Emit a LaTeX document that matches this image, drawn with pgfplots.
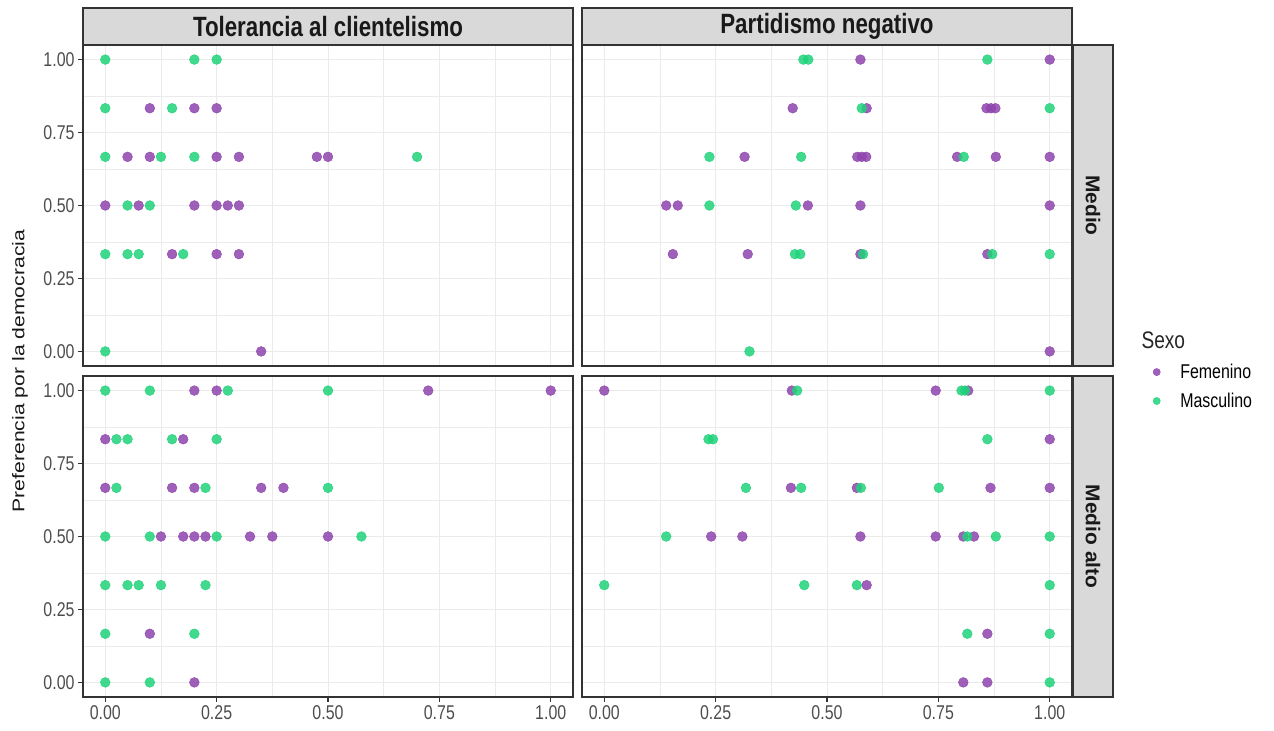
\documentclass[border=0pt]{standalone}
\usepackage{fontspec}
\setmainfont{Liberation Sans}
\newfontfamily\fonth[FakeStretch=0.8]{Liberation Sans}
\newfontfamily\fontv[FakeStretch=1.25]{Liberation Sans}
\newfontfamily\fontvs[FakeStretch=1.05]{Liberation Sans}
\usepackage{pgfplots}
\pgfplotsset{compat=1.18}
\definecolor{fem}{HTML}{8E44AD}
\definecolor{mas}{HTML}{1FD27A}
\definecolor{gridc}{HTML}{EBEBEB}
\definecolor{framec}{HTML}{333333}
\definecolor{stripc}{HTML}{D9D9D9}
\definecolor{tickc}{HTML}{4D4D4D}
\pgfplotsset{
  panel/.style={
    scale only axis, width=490bp, height=321bp,
    xmin=-0.05, xmax=1.05, ymin=-0.05, ymax=1.05,
    xtick={0,0.25,0.5,0.75,1}, ytick={0,0.25,0.5,0.75,1},
    minor xtick={0.125,0.375,0.625,0.875}, minor ytick={0.125,0.375,0.625,0.875},
    grid=both,
    major grid style={gridc, line width=1bp},
    minor grid style={gridc, line width=0.6bp},
    axis line style={framec, line width=1.1bp},
    tick pos=left, tick align=outside, major tick length=5bp, minor tick length=0pt,
    tick style={framec, line width=1.1bp},
    xticklabels={0.00,0.25,0.50,0.75,1.00},
    yticklabels={0.00,0.25,0.50,0.75,1.00},
    ticklabel style={font=\fonth\fontsize{20}{22}\selectfont, text=tickc},
  },
  noxlab/.style={xticklabels={}, xtick style={draw=none}},
  noylab/.style={yticklabels={}, ytick style={draw=none}},
  fempt/.style={only marks, mark=*, mark size=4.9bp, color=fem, mark options={draw=none, fill=fem, fill opacity=0.85}},
  maspt/.style={only marks, mark=*, mark size=4.9bp, color=mas, mark options={draw=none, fill=mas, fill opacity=0.85}},
}
\begin{document}
\begin{tikzpicture}
\useasboundingbox (0bp,0bp) rectangle (1274bp,731bp);

% ---------- top-left: Medio / Tolerancia al clientelismo
\begin{axis}[panel, noxlab, at={(83bp,365bp)}, anchor=south west]
\addplot[fempt] coordinates {
(0.1,0.8333)(0.2,0.8333)(0.25,0.8333)
(0.05,0.6667)(0.1,0.6667)(0.25,0.6667)(0.3,0.6667)(0.475,0.6667)(0.5,0.6667)
(0,0.5)(0.075,0.5)(0.2,0.5)(0.25,0.5)(0.275,0.5)(0.3,0.5)
(0.15,0.3333)(0.25,0.3333)(0.3,0.3333)
(0.35,0)};
\addplot[maspt] coordinates {
(0,1)(0.2,1)(0.25,1)
(0,0.8333)(0.15,0.8333)
(0,0.6667)(0.125,0.6667)(0.2,0.6667)(0.7,0.6667)
(0.05,0.5)(0.1,0.5)
(0,0.3333)(0.05,0.3333)(0.075,0.3333)(0.175,0.3333)
(0,0)};
\end{axis}

% ---------- top-right: Medio / Partidismo negativo
\begin{axis}[panel, noxlab, noylab, at={(582bp,365bp)}, anchor=south west]
\addplot[fempt] coordinates {
(0.575,1)(1,1)
(0.423,0.8333)(0.589,0.8333)(0.858,0.8333)(0.868,0.8333)(0.878,0.8333)
(0.315,0.6667)(0.568,0.6667)(0.578,0.6667)(0.588,0.6667)(0.792,0.6667)(0.879,0.6667)(1,0.6667)
(0.139,0.5)(0.165,0.5)(0.457,0.5)(0.575,0.5)(1,0.5)
(0.154,0.3333)(0.322,0.3333)(0.575,0.3333)(0.860,0.3333)
(1,0)};
\addplot[maspt] coordinates {
(0.447,1)(0.458,1)(0.860,1)
(0.578,0.8333)(1,0.8333)
(0.236,0.6667)(0.442,0.6667)(0.807,0.6667)
(0.236,0.5)(0.43,0.5)
(0.428,0.3333)(0.44,0.3333)(0.581,0.3333)(0.871,0.3333)(1,0.3333)
(0.326,0)};
\end{axis}

% ---------- bottom-left: Medio alto / Tolerancia al clientelismo
\begin{axis}[panel, at={(83bp,34bp)}, anchor=south west]
\addplot[fempt] coordinates {
(0.2,1)(0.25,1)(0.725,1)(1,1)
(0,0.8333)(0.175,0.8333)
(0,0.6667)(0.15,0.6667)(0.2,0.6667)(0.35,0.6667)(0.4,0.6667)
(0.125,0.5)(0.175,0.5)(0.2,0.5)(0.225,0.5)(0.325,0.5)(0.375,0.5)(0.5,0.5)
(0.1,0.1667)
(0.2,0)};
\addplot[maspt] coordinates {
(0,1)(0.1,1)(0.275,1)(0.5,1)
(0.025,0.8333)(0.05,0.8333)(0.15,0.8333)(0.25,0.8333)
(0.025,0.6667)(0.225,0.6667)(0.5,0.6667)
(0,0.5)(0.1,0.5)(0.25,0.5)(0.575,0.5)
(0,0.3333)(0.05,0.3333)(0.075,0.3333)(0.125,0.3333)(0.225,0.3333)
(0,0.1667)(0.2,0.1667)
(0,0)(0.1,0)};
\end{axis}

% ---------- bottom-right: Medio alto / Partidismo negativo
\begin{axis}[panel, noylab, at={(582bp,34bp)}, anchor=south west,
  legend style={draw=none, fill=none, at={(1.159,1.05)}, anchor=north west,
    font=\fonth\fontsize{20}{24}\selectfont, row sep=9bp,
    /tikz/every odd column/.append style={column sep=18bp}},
  legend image post style={mark size=3.6bp},
  legend cell align=left]
\addplot[fempt] coordinates {
(0,1)(0.421,1)(0.744,1)(0.817,1)
(1,0.8333)
(0.419,0.6667)(0.567,0.6667)(0.867,0.6667)(1,0.6667)
(0.240,0.5)(0.31,0.5)(0.575,0.5)(0.744,0.5)(0.806,0.5)(0.830,0.5)
(0.589,0.3333)
(0.860,0.1667)
(0.806,0)(0.860,0)};
\addlegendentry{Femenino}
\addplot[maspt] coordinates {
(0.433,1)(0.802,1)(0.81,1)(1,1)
(0.234,0.8333)(0.244,0.8333)(0.860,0.8333)
(0.318,0.6667)(0.442,0.6667)(0.576,0.6667)(0.751,0.6667)
(0.139,0.5)(0.815,0.5)(0.879,0.5)(1,0.5)
(0,0.3333)(0.449,0.3333)(0.567,0.3333)(1,0.3333)
(0.815,0.1667)(1,0.1667)
(1,0)};
\addlegendentry{Masculino}
\end{axis}

% ---------- strips
\begin{scope}[x=1bp,y=1bp]
\draw[framec, fill=stripc, line width=1.1bp] (83,686) rectangle (573,723);
\draw[framec, fill=stripc, line width=1.1bp] (582,686) rectangle (1072,723);
\node[text=black!90, font=\fonth\bfseries\fontsize{28}{30}\selectfont] at (328,704.5) {Tolerancia al clientelismo};
\node[text=black!90, font=\fonth\bfseries\fontsize{28}{30}\selectfont] at (827,704.5) {Partidismo negativo};
\draw[framec, fill=stripc, line width=1.1bp] (1073,365) rectangle (1113,686);
\draw[framec, fill=stripc, line width=1.1bp] (1073,34) rectangle (1113,355);
\node[rotate=-90, text=black!90, font=\fontvs\bfseries\fontsize{20}{22}\selectfont] at (1093,525.5) {Medio};
\node[rotate=-90, text=black!90, font=\fontvs\bfseries\fontsize{20}{22}\selectfont] at (1093,194.5) {Medio alto};
% ---------- axis title and legend title
\node[rotate=90, text=black!90, font=\fontv\fontsize{17}{20}\selectfont] at (20,360) {Preferencia por la democracia};
\node[anchor=west, text=black!85, font=\fonth\fontsize{24}{28}\selectfont] at (1138,391) {Sexo};
\end{scope}
\end{tikzpicture}
\end{document}
